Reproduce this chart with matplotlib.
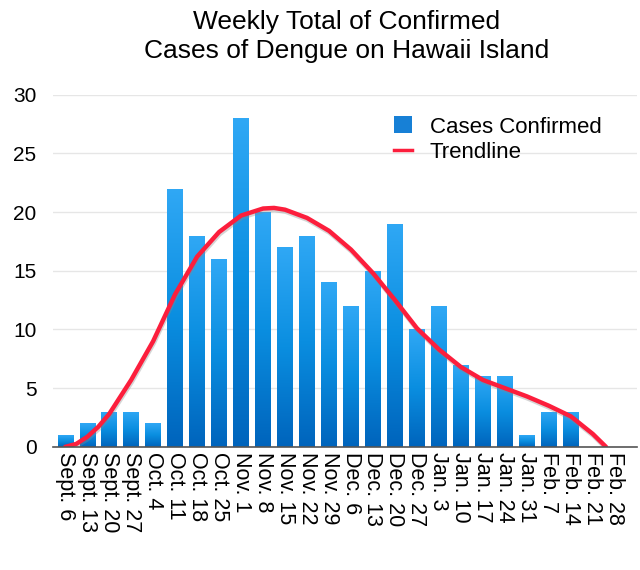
import numpy as np
import matplotlib
matplotlib.use('Agg')
import matplotlib.pyplot as plt
import matplotlib.patheffects as pe
from matplotlib.colors import LinearSegmentedColormap
from matplotlib.patches import Patch
from matplotlib.lines import Line2D

plt.rcParams['font.family'] = ['Liberation Sans', 'DejaVu Sans']

# weekly data
weeks = ['Sept. 6', 'Sept. 13', 'Sept. 20', 'Sept. 27', 'Oct. 4', 'Oct. 11', 'Oct. 18',
         'Oct. 25', 'Nov. 1', 'Nov. 8', 'Nov. 15', 'Nov. 22', 'Nov. 29', 'Dec. 6',
         'Dec. 13', 'Dec. 20', 'Dec. 27', 'Jan. 3', 'Jan. 10', 'Jan. 17', 'Jan. 24',
         'Jan. 31', 'Feb. 7', 'Feb. 14', 'Feb. 21', 'Feb. 28']
cases = [1, 2, 3, 3, 2, 22, 18, 16, 28, 20, 17, 18, 14, 12, 15, 19, 10, 12, 7, 6, 6,
         1, 3, 3, 0, 0]

# trendline (week index, value)
trend_x = [0, 0.5, 1, 1.5, 2, 3, 4, 5, 6, 7, 8, 9, 9.5, 10, 11, 12, 13, 14, 15, 16, 17,
           18, 19, 20, 21, 22, 23, 24, 24.6]
trend_y = [0, 0.25, 0.85, 1.7, 2.8, 5.7, 9.0, 13.0, 16.2, 18.3, 19.7, 20.3, 20.35, 20.2,
           19.5, 18.4, 16.8, 14.8, 12.5, 10.1, 8.3, 6.8, 5.7, 5.0, 4.3, 3.5, 2.6, 1.1, 0]

fig = plt.figure(figsize=(6.4, 5.7), dpi=100)
ax = fig.add_axes([0.083, 0.216, 0.912, 0.618])

x = np.arange(len(weeks))
bars = ax.bar(x, cases, width=0.7, color='#1a8ee0', zorder=2)

# vertical gradient in each bar
cmap = LinearSegmentedColormap.from_list('blues', ['#0064bc', '#0a8ee0', '#30a8f5'])
grad = np.linspace(0, 1, 256).reshape(-1, 1)
for b in bars:
    h = b.get_height()
    if h <= 0:
        continue
    bx, bw = b.get_x(), b.get_width()
    im = ax.imshow(grad, cmap=cmap, origin='lower', aspect='auto',
                   extent=[bx, bx + bw, 0, h], zorder=2)
    im.set_clip_path(b)
    b.set_facecolor('none')

ax.plot(trend_x, trend_y, color='#fc1e3c', lw=3.2, solid_capstyle='round', zorder=4,
        path_effects=[pe.SimpleLineShadow(offset=(0.5, -1.5), shadow_color='#888888', alpha=0.35),
                      pe.Normal()])

ax.set_xlim(-0.55, 26.0)
ax.set_ylim(0, 30)
ax.set_yticks(range(0, 31, 5))
ax.set_xticks(x)
ax.set_xticklabels(weeks, rotation=-90, fontsize=15.5, va='top', ha='center')
ax.tick_params(axis='y', labelsize=15, length=0, pad=12)
ax.tick_params(axis='x', length=0, pad=4)
ax.grid(axis='y', color='#e6e6e6', lw=1, zorder=0)
ax.set_axisbelow(True)
for s in ['left', 'right', 'top']:
    ax.spines[s].set_visible(False)
ax.spines['bottom'].set_color('#555555')
ax.spines['bottom'].set_linewidth(1.2)
ax.spines['bottom'].set_zorder(5)

handles = [Patch(facecolor='#1780d6', edgecolor='none'),
           Line2D([0], [0], color='#fc1e3c', lw=2.5)]
ax.legend(handles, ['Cases Confirmed', 'Trendline'], loc='upper left',
          bbox_to_anchor=(0.55, 0.995), frameon=False, fontsize=16,
          handlelength=0.8, handleheight=0.8, labelspacing=0.2, handletextpad=0.8)

fig.text(0.541, 0.982, 'Weekly Total of Confirmed\nCases of Dengue on Hawaii Island',
         ha='center', va='top', fontsize=19, linespacing=1.25)

fig.savefig('out.png', dpi=100)
